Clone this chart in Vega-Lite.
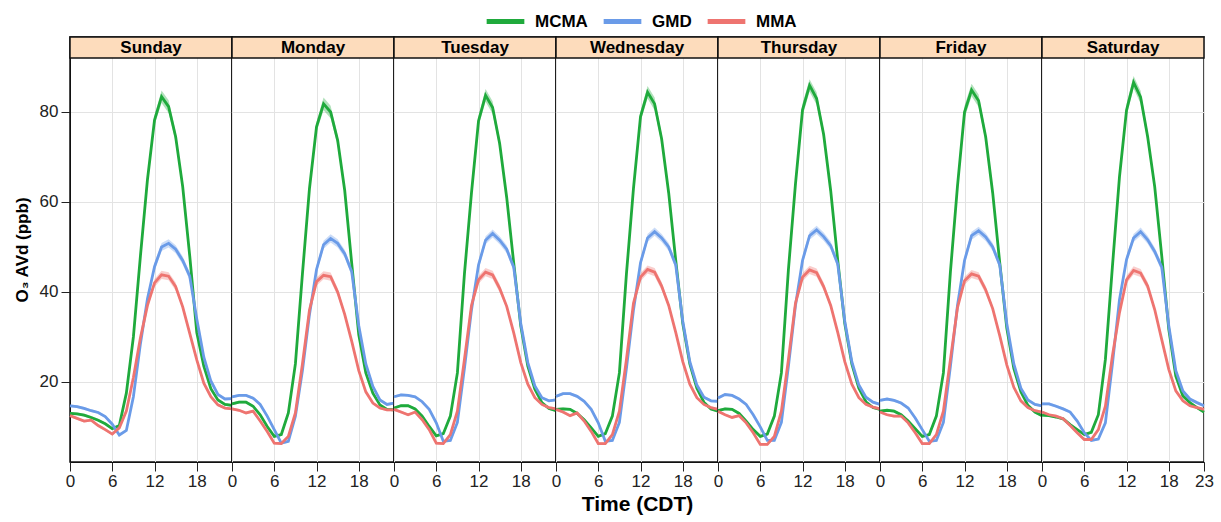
{
"$schema": "https://vega.github.io/schema/vega-lite/v6.json",
"padding": {"left": 12, "top": 0, "right": 5, "bottom": 5},
"spacing": 0,
"bounds": "flush",
"config": {
  "font": "Liberation Sans",
  "view": {"stroke": "#111", "strokeWidth": 1.5},
  "axis": {"labelFont": "Liberation Sans", "titleFont": "Liberation Sans", "labelColor": "#222", "tickColor": "#222", "domainColor": "#111", "gridColor": "#e3e3e3", "titleColor": "#000", "labelFlush": false},
  "concat": {"spacing": 0}
},
"resolve": {"scale": {"color": "shared"}},
"datasets": {"o3": [
{"d":"Sunday","h":0,"s":"MCMA","v":13.0,"e":0.3},{"d":"Sunday","h":1,"s":"MCMA","v":12.9,"e":0.3},{"d":"Sunday","h":2,"s":"MCMA","v":12.6,"e":0.3},{"d":"Sunday","h":3,"s":"MCMA","v":12.1,"e":0.3},{"d":"Sunday","h":4,"s":"MCMA","v":11.5,"e":0.3},{"d":"Sunday","h":5,"s":"MCMA","v":10.7,"e":0.3},{"d":"Sunday","h":6,"s":"MCMA","v":9.6,"e":0.3},{"d":"Sunday","h":7,"s":"MCMA","v":10.3,"e":0.3},{"d":"Sunday","h":8,"s":"MCMA","v":17.5,"e":0.3},{"d":"Sunday","h":9,"s":"MCMA","v":30,"e":0.5},{"d":"Sunday","h":10,"s":"MCMA","v":48,"e":0.9},{"d":"Sunday","h":11,"s":"MCMA","v":65,"e":1.1},{"d":"Sunday","h":12,"s":"MCMA","v":78.2,"e":1.1},{"d":"Sunday","h":13,"s":"MCMA","v":83.4,"e":1.4},{"d":"Sunday","h":14,"s":"MCMA","v":81.2,"e":1.4},{"d":"Sunday","h":15,"s":"MCMA","v":74.5,"e":1.1},{"d":"Sunday","h":16,"s":"MCMA","v":63.4,"e":1.1},{"d":"Sunday","h":17,"s":"MCMA","v":48,"e":0.9},{"d":"Sunday","h":18,"s":"MCMA","v":31,"e":0.5},{"d":"Sunday","h":19,"s":"MCMA","v":23.5,"e":0.5},{"d":"Sunday","h":20,"s":"MCMA","v":18.5,"e":0.3},{"d":"Sunday","h":21,"s":"MCMA","v":16,"e":0.3},{"d":"Sunday","h":22,"s":"MCMA","v":15,"e":0.3},{"d":"Sunday","h":23,"s":"MCMA","v":14.8,"e":0.3},
{"d":"Sunday","h":0,"s":"GMD","v":14.7,"e":0.3},{"d":"Sunday","h":1,"s":"GMD","v":14.5,"e":0.3},{"d":"Sunday","h":2,"s":"GMD","v":14.1,"e":0.3},{"d":"Sunday","h":3,"s":"GMD","v":13.6,"e":0.3},{"d":"Sunday","h":4,"s":"GMD","v":13.2,"e":0.3},{"d":"Sunday","h":5,"s":"GMD","v":12.3,"e":0.3},{"d":"Sunday","h":6,"s":"GMD","v":10.6,"e":0.3},{"d":"Sunday","h":7,"s":"GMD","v":8.2,"e":0.3},{"d":"Sunday","h":8,"s":"GMD","v":9.2,"e":0.3},{"d":"Sunday","h":9,"s":"GMD","v":16.7,"e":0.3},{"d":"Sunday","h":10,"s":"GMD","v":28.5,"e":0.5},{"d":"Sunday","h":11,"s":"GMD","v":38.5,"e":0.5},{"d":"Sunday","h":12,"s":"GMD","v":45.6,"e":0.9},{"d":"Sunday","h":13,"s":"GMD","v":50,"e":0.9},{"d":"Sunday","h":14,"s":"GMD","v":50.8,"e":0.9},{"d":"Sunday","h":15,"s":"GMD","v":49.5,"e":0.9},{"d":"Sunday","h":16,"s":"GMD","v":47,"e":0.9},{"d":"Sunday","h":17,"s":"GMD","v":43.5,"e":0.9},{"d":"Sunday","h":18,"s":"GMD","v":34,"e":0.5},{"d":"Sunday","h":19,"s":"GMD","v":25.5,"e":0.5},{"d":"Sunday","h":20,"s":"GMD","v":20.2,"e":0.5},{"d":"Sunday","h":21,"s":"GMD","v":17.2,"e":0.3},{"d":"Sunday","h":22,"s":"GMD","v":16.2,"e":0.3},{"d":"Sunday","h":23,"s":"GMD","v":16.3,"e":0.3},
{"d":"Sunday","h":0,"s":"MMA","v":12.5,"e":0.3},{"d":"Sunday","h":1,"s":"MMA","v":11.9,"e":0.3},{"d":"Sunday","h":2,"s":"MMA","v":11.3,"e":0.3},{"d":"Sunday","h":3,"s":"MMA","v":11.5,"e":0.3},{"d":"Sunday","h":4,"s":"MMA","v":10.3,"e":0.3},{"d":"Sunday","h":5,"s":"MMA","v":9.4,"e":0.3},{"d":"Sunday","h":6,"s":"MMA","v":8.4,"e":0.3},{"d":"Sunday","h":7,"s":"MMA","v":9.8,"e":0.3},{"d":"Sunday","h":8,"s":"MMA","v":13.5,"e":0.3},{"d":"Sunday","h":9,"s":"MMA","v":21,"e":0.5},{"d":"Sunday","h":10,"s":"MMA","v":29.8,"e":0.5},{"d":"Sunday","h":11,"s":"MMA","v":37,"e":0.5},{"d":"Sunday","h":12,"s":"MMA","v":42,"e":0.9},{"d":"Sunday","h":13,"s":"MMA","v":43.8,"e":0.9},{"d":"Sunday","h":14,"s":"MMA","v":43.5,"e":0.9},{"d":"Sunday","h":15,"s":"MMA","v":41.2,"e":0.9},{"d":"Sunday","h":16,"s":"MMA","v":36.7,"e":0.5},{"d":"Sunday","h":17,"s":"MMA","v":30.8,"e":0.5},{"d":"Sunday","h":18,"s":"MMA","v":24.9,"e":0.5},{"d":"Sunday","h":19,"s":"MMA","v":19.7,"e":0.3},{"d":"Sunday","h":20,"s":"MMA","v":16.7,"e":0.3},{"d":"Sunday","h":21,"s":"MMA","v":14.9,"e":0.3},{"d":"Sunday","h":22,"s":"MMA","v":14.2,"e":0.3},{"d":"Sunday","h":23,"s":"MMA","v":14.0,"e":0.3},
{"d":"Monday","h":0,"s":"MCMA","v":15.1,"e":0.3},{"d":"Monday","h":1,"s":"MCMA","v":15.5,"e":0.3},{"d":"Monday","h":2,"s":"MCMA","v":15.5,"e":0.3},{"d":"Monday","h":3,"s":"MCMA","v":14.6,"e":0.3},{"d":"Monday","h":4,"s":"MCMA","v":12.7,"e":0.3},{"d":"Monday","h":5,"s":"MCMA","v":10.1,"e":0.3},{"d":"Monday","h":6,"s":"MCMA","v":7.9,"e":0.3},{"d":"Monday","h":7,"s":"MCMA","v":8.3,"e":0.3},{"d":"Monday","h":8,"s":"MCMA","v":13.1,"e":0.3},{"d":"Monday","h":9,"s":"MCMA","v":24,"e":0.5},{"d":"Monday","h":10,"s":"MCMA","v":44,"e":0.9},{"d":"Monday","h":11,"s":"MCMA","v":63,"e":1.1},{"d":"Monday","h":12,"s":"MCMA","v":76.7,"e":1.1},{"d":"Monday","h":13,"s":"MCMA","v":81.8,"e":1.4},{"d":"Monday","h":14,"s":"MCMA","v":80,"e":1.4},{"d":"Monday","h":15,"s":"MCMA","v":73.7,"e":1.1},{"d":"Monday","h":16,"s":"MCMA","v":62.6,"e":1.1},{"d":"Monday","h":17,"s":"MCMA","v":46.3,"e":0.9},{"d":"Monday","h":18,"s":"MCMA","v":30.5,"e":0.5},{"d":"Monday","h":19,"s":"MCMA","v":22,"e":0.5},{"d":"Monday","h":20,"s":"MCMA","v":17.5,"e":0.3},{"d":"Monday","h":21,"s":"MCMA","v":14.9,"e":0.3},{"d":"Monday","h":22,"s":"MCMA","v":13.9,"e":0.3},{"d":"Monday","h":23,"s":"MCMA","v":13.8,"e":0.3},
{"d":"Monday","h":0,"s":"GMD","v":16.7,"e":0.3},{"d":"Monday","h":1,"s":"GMD","v":17.0,"e":0.3},{"d":"Monday","h":2,"s":"GMD","v":17.0,"e":0.3},{"d":"Monday","h":3,"s":"GMD","v":16.4,"e":0.3},{"d":"Monday","h":4,"s":"GMD","v":15.0,"e":0.3},{"d":"Monday","h":5,"s":"GMD","v":12.4,"e":0.3},{"d":"Monday","h":6,"s":"GMD","v":9.4,"e":0.3},{"d":"Monday","h":7,"s":"GMD","v":6.4,"e":0.3},{"d":"Monday","h":8,"s":"GMD","v":6.8,"e":0.3},{"d":"Monday","h":9,"s":"GMD","v":12.4,"e":0.3},{"d":"Monday","h":10,"s":"GMD","v":22.5,"e":0.5},{"d":"Monday","h":11,"s":"GMD","v":35,"e":0.5},{"d":"Monday","h":12,"s":"GMD","v":45,"e":0.9},{"d":"Monday","h":13,"s":"GMD","v":50.5,"e":0.9},{"d":"Monday","h":14,"s":"GMD","v":51.9,"e":0.9},{"d":"Monday","h":15,"s":"GMD","v":50.8,"e":0.9},{"d":"Monday","h":16,"s":"GMD","v":48.5,"e":0.9},{"d":"Monday","h":17,"s":"GMD","v":44.5,"e":0.9},{"d":"Monday","h":18,"s":"GMD","v":32.5,"e":0.5},{"d":"Monday","h":19,"s":"GMD","v":24,"e":0.5},{"d":"Monday","h":20,"s":"GMD","v":19,"e":0.3},{"d":"Monday","h":21,"s":"GMD","v":16,"e":0.3},{"d":"Monday","h":22,"s":"GMD","v":15,"e":0.3},{"d":"Monday","h":23,"s":"GMD","v":15.3,"e":0.3},
{"d":"Monday","h":0,"s":"MMA","v":14.0,"e":0.3},{"d":"Monday","h":1,"s":"MMA","v":13.7,"e":0.3},{"d":"Monday","h":2,"s":"MMA","v":13.1,"e":0.3},{"d":"Monday","h":3,"s":"MMA","v":13.5,"e":0.3},{"d":"Monday","h":4,"s":"MMA","v":11.3,"e":0.3},{"d":"Monday","h":5,"s":"MMA","v":9.0,"e":0.3},{"d":"Monday","h":6,"s":"MMA","v":6.4,"e":0.3},{"d":"Monday","h":7,"s":"MMA","v":6.3,"e":0.3},{"d":"Monday","h":8,"s":"MMA","v":7.9,"e":0.3},{"d":"Monday","h":9,"s":"MMA","v":13.1,"e":0.3},{"d":"Monday","h":10,"s":"MMA","v":24,"e":0.5},{"d":"Monday","h":11,"s":"MMA","v":36,"e":0.5},{"d":"Monday","h":12,"s":"MMA","v":42.3,"e":0.9},{"d":"Monday","h":13,"s":"MMA","v":43.7,"e":0.9},{"d":"Monday","h":14,"s":"MMA","v":43.4,"e":0.9},{"d":"Monday","h":15,"s":"MMA","v":40,"e":0.9},{"d":"Monday","h":16,"s":"MMA","v":35,"e":0.5},{"d":"Monday","h":17,"s":"MMA","v":29,"e":0.5},{"d":"Monday","h":18,"s":"MMA","v":22.5,"e":0.5},{"d":"Monday","h":19,"s":"MMA","v":17.8,"e":0.3},{"d":"Monday","h":20,"s":"MMA","v":15.3,"e":0.3},{"d":"Monday","h":21,"s":"MMA","v":14.2,"e":0.3},{"d":"Monday","h":22,"s":"MMA","v":13.8,"e":0.3},{"d":"Monday","h":23,"s":"MMA","v":13.8,"e":0.3},
{"d":"Tuesday","h":0,"s":"MCMA","v":14.2,"e":0.3},{"d":"Tuesday","h":1,"s":"MCMA","v":14.7,"e":0.3},{"d":"Tuesday","h":2,"s":"MCMA","v":14.7,"e":0.3},{"d":"Tuesday","h":3,"s":"MCMA","v":14.0,"e":0.3},{"d":"Tuesday","h":4,"s":"MCMA","v":12.4,"e":0.3},{"d":"Tuesday","h":5,"s":"MCMA","v":10.1,"e":0.3},{"d":"Tuesday","h":6,"s":"MCMA","v":8.0,"e":0.3},{"d":"Tuesday","h":7,"s":"MCMA","v":8.5,"e":0.3},{"d":"Tuesday","h":8,"s":"MCMA","v":12.4,"e":0.3},{"d":"Tuesday","h":9,"s":"MCMA","v":22,"e":0.5},{"d":"Tuesday","h":10,"s":"MCMA","v":44,"e":0.9},{"d":"Tuesday","h":11,"s":"MCMA","v":62,"e":1.1},{"d":"Tuesday","h":12,"s":"MCMA","v":78,"e":1.1},{"d":"Tuesday","h":13,"s":"MCMA","v":83.7,"e":1.4},{"d":"Tuesday","h":14,"s":"MCMA","v":81,"e":1.4},{"d":"Tuesday","h":15,"s":"MCMA","v":73,"e":1.1},{"d":"Tuesday","h":16,"s":"MCMA","v":61,"e":1.1},{"d":"Tuesday","h":17,"s":"MCMA","v":46.4,"e":0.9},{"d":"Tuesday","h":18,"s":"MCMA","v":32.4,"e":0.5},{"d":"Tuesday","h":19,"s":"MCMA","v":23.5,"e":0.5},{"d":"Tuesday","h":20,"s":"MCMA","v":18.4,"e":0.3},{"d":"Tuesday","h":21,"s":"MCMA","v":15.4,"e":0.3},{"d":"Tuesday","h":22,"s":"MCMA","v":14.1,"e":0.3},{"d":"Tuesday","h":23,"s":"MCMA","v":13.6,"e":0.3},
{"d":"Tuesday","h":0,"s":"GMD","v":16.7,"e":0.3},{"d":"Tuesday","h":1,"s":"GMD","v":17.1,"e":0.3},{"d":"Tuesday","h":2,"s":"GMD","v":17.0,"e":0.3},{"d":"Tuesday","h":3,"s":"GMD","v":16.7,"e":0.3},{"d":"Tuesday","h":4,"s":"GMD","v":15.6,"e":0.3},{"d":"Tuesday","h":5,"s":"GMD","v":13.9,"e":0.3},{"d":"Tuesday","h":6,"s":"GMD","v":10.9,"e":0.3},{"d":"Tuesday","h":7,"s":"GMD","v":6.8,"e":0.3},{"d":"Tuesday","h":8,"s":"GMD","v":7.0,"e":0.3},{"d":"Tuesday","h":9,"s":"GMD","v":11,"e":0.3},{"d":"Tuesday","h":10,"s":"GMD","v":23,"e":0.5},{"d":"Tuesday","h":11,"s":"GMD","v":36,"e":0.5},{"d":"Tuesday","h":12,"s":"GMD","v":46,"e":0.9},{"d":"Tuesday","h":13,"s":"GMD","v":51.5,"e":0.9},{"d":"Tuesday","h":14,"s":"GMD","v":53,"e":0.9},{"d":"Tuesday","h":15,"s":"GMD","v":51.5,"e":0.9},{"d":"Tuesday","h":16,"s":"GMD","v":49.5,"e":0.9},{"d":"Tuesday","h":17,"s":"GMD","v":45.5,"e":0.9},{"d":"Tuesday","h":18,"s":"GMD","v":33,"e":0.5},{"d":"Tuesday","h":19,"s":"GMD","v":24.3,"e":0.5},{"d":"Tuesday","h":20,"s":"GMD","v":19.1,"e":0.3},{"d":"Tuesday","h":21,"s":"GMD","v":16.5,"e":0.3},{"d":"Tuesday","h":22,"s":"GMD","v":15.8,"e":0.3},{"d":"Tuesday","h":23,"s":"GMD","v":16.0,"e":0.3},
{"d":"Tuesday","h":0,"s":"MMA","v":13.9,"e":0.3},{"d":"Tuesday","h":1,"s":"MMA","v":13.3,"e":0.3},{"d":"Tuesday","h":2,"s":"MMA","v":12.7,"e":0.3},{"d":"Tuesday","h":3,"s":"MMA","v":13.3,"e":0.3},{"d":"Tuesday","h":4,"s":"MMA","v":11.6,"e":0.3},{"d":"Tuesday","h":5,"s":"MMA","v":9.4,"e":0.3},{"d":"Tuesday","h":6,"s":"MMA","v":6.4,"e":0.3},{"d":"Tuesday","h":7,"s":"MMA","v":6.3,"e":0.3},{"d":"Tuesday","h":8,"s":"MMA","v":8.3,"e":0.3},{"d":"Tuesday","h":9,"s":"MMA","v":13.5,"e":0.3},{"d":"Tuesday","h":10,"s":"MMA","v":25,"e":0.5},{"d":"Tuesday","h":11,"s":"MMA","v":37,"e":0.5},{"d":"Tuesday","h":12,"s":"MMA","v":42.7,"e":0.9},{"d":"Tuesday","h":13,"s":"MMA","v":44.4,"e":0.9},{"d":"Tuesday","h":14,"s":"MMA","v":43.8,"e":0.9},{"d":"Tuesday","h":15,"s":"MMA","v":40.8,"e":0.9},{"d":"Tuesday","h":16,"s":"MMA","v":36.8,"e":0.5},{"d":"Tuesday","h":17,"s":"MMA","v":30.9,"e":0.5},{"d":"Tuesday","h":18,"s":"MMA","v":24.3,"e":0.5},{"d":"Tuesday","h":19,"s":"MMA","v":19.5,"e":0.3},{"d":"Tuesday","h":20,"s":"MMA","v":16.5,"e":0.3},{"d":"Tuesday","h":21,"s":"MMA","v":15,"e":0.3},{"d":"Tuesday","h":22,"s":"MMA","v":14.3,"e":0.3},{"d":"Tuesday","h":23,"s":"MMA","v":14.0,"e":0.3},
{"d":"Wednesday","h":0,"s":"MCMA","v":13.9,"e":0.3},{"d":"Wednesday","h":1,"s":"MCMA","v":14.0,"e":0.3},{"d":"Wednesday","h":2,"s":"MCMA","v":13.9,"e":0.3},{"d":"Wednesday","h":3,"s":"MCMA","v":13.0,"e":0.3},{"d":"Wednesday","h":4,"s":"MCMA","v":11.6,"e":0.3},{"d":"Wednesday","h":5,"s":"MCMA","v":9.8,"e":0.3},{"d":"Wednesday","h":6,"s":"MCMA","v":7.9,"e":0.3},{"d":"Wednesday","h":7,"s":"MCMA","v":8.5,"e":0.3},{"d":"Wednesday","h":8,"s":"MCMA","v":12.4,"e":0.3},{"d":"Wednesday","h":9,"s":"MCMA","v":22,"e":0.5},{"d":"Wednesday","h":10,"s":"MCMA","v":44,"e":0.9},{"d":"Wednesday","h":11,"s":"MCMA","v":63,"e":1.1},{"d":"Wednesday","h":12,"s":"MCMA","v":79,"e":1.1},{"d":"Wednesday","h":13,"s":"MCMA","v":84.4,"e":1.4},{"d":"Wednesday","h":14,"s":"MCMA","v":81.8,"e":1.4},{"d":"Wednesday","h":15,"s":"MCMA","v":74,"e":1.1},{"d":"Wednesday","h":16,"s":"MCMA","v":62,"e":1.1},{"d":"Wednesday","h":17,"s":"MCMA","v":47,"e":0.9},{"d":"Wednesday","h":18,"s":"MCMA","v":33,"e":0.5},{"d":"Wednesday","h":19,"s":"MCMA","v":24,"e":0.5},{"d":"Wednesday","h":20,"s":"MCMA","v":18.6,"e":0.3},{"d":"Wednesday","h":21,"s":"MCMA","v":15.5,"e":0.3},{"d":"Wednesday","h":22,"s":"MCMA","v":14,"e":0.3},{"d":"Wednesday","h":23,"s":"MCMA","v":13.5,"e":0.3},
{"d":"Wednesday","h":0,"s":"GMD","v":16.8,"e":0.3},{"d":"Wednesday","h":1,"s":"GMD","v":17.4,"e":0.3},{"d":"Wednesday","h":2,"s":"GMD","v":17.4,"e":0.3},{"d":"Wednesday","h":3,"s":"GMD","v":16.8,"e":0.3},{"d":"Wednesday","h":4,"s":"GMD","v":15.7,"e":0.3},{"d":"Wednesday","h":5,"s":"GMD","v":13.9,"e":0.3},{"d":"Wednesday","h":6,"s":"GMD","v":10.9,"e":0.3},{"d":"Wednesday","h":7,"s":"GMD","v":6.8,"e":0.3},{"d":"Wednesday","h":8,"s":"GMD","v":7.0,"e":0.3},{"d":"Wednesday","h":9,"s":"GMD","v":11,"e":0.3},{"d":"Wednesday","h":10,"s":"GMD","v":23,"e":0.5},{"d":"Wednesday","h":11,"s":"GMD","v":36,"e":0.5},{"d":"Wednesday","h":12,"s":"GMD","v":46.5,"e":0.9},{"d":"Wednesday","h":13,"s":"GMD","v":52,"e":0.9},{"d":"Wednesday","h":14,"s":"GMD","v":53.4,"e":0.9},{"d":"Wednesday","h":15,"s":"GMD","v":52,"e":0.9},{"d":"Wednesday","h":16,"s":"GMD","v":50,"e":0.9},{"d":"Wednesday","h":17,"s":"GMD","v":46,"e":0.9},{"d":"Wednesday","h":18,"s":"GMD","v":33.5,"e":0.5},{"d":"Wednesday","h":19,"s":"GMD","v":24.5,"e":0.5},{"d":"Wednesday","h":20,"s":"GMD","v":19.3,"e":0.3},{"d":"Wednesday","h":21,"s":"GMD","v":16.6,"e":0.3},{"d":"Wednesday","h":22,"s":"GMD","v":15.8,"e":0.3},{"d":"Wednesday","h":23,"s":"GMD","v":15.7,"e":0.3},
{"d":"Wednesday","h":0,"s":"MMA","v":13.9,"e":0.3},{"d":"Wednesday","h":1,"s":"MMA","v":13.3,"e":0.3},{"d":"Wednesday","h":2,"s":"MMA","v":12.5,"e":0.3},{"d":"Wednesday","h":3,"s":"MMA","v":13.1,"e":0.3},{"d":"Wednesday","h":4,"s":"MMA","v":11.3,"e":0.3},{"d":"Wednesday","h":5,"s":"MMA","v":9.0,"e":0.3},{"d":"Wednesday","h":6,"s":"MMA","v":6.3,"e":0.3},{"d":"Wednesday","h":7,"s":"MMA","v":6.3,"e":0.3},{"d":"Wednesday","h":8,"s":"MMA","v":8.3,"e":0.3},{"d":"Wednesday","h":9,"s":"MMA","v":13.5,"e":0.3},{"d":"Wednesday","h":10,"s":"MMA","v":25,"e":0.5},{"d":"Wednesday","h":11,"s":"MMA","v":37.5,"e":0.5},{"d":"Wednesday","h":12,"s":"MMA","v":43.3,"e":0.9},{"d":"Wednesday","h":13,"s":"MMA","v":45,"e":0.9},{"d":"Wednesday","h":14,"s":"MMA","v":44.4,"e":0.9},{"d":"Wednesday","h":15,"s":"MMA","v":41.3,"e":0.9},{"d":"Wednesday","h":16,"s":"MMA","v":37,"e":0.5},{"d":"Wednesday","h":17,"s":"MMA","v":31,"e":0.5},{"d":"Wednesday","h":18,"s":"MMA","v":24.5,"e":0.5},{"d":"Wednesday","h":19,"s":"MMA","v":19.5,"e":0.3},{"d":"Wednesday","h":20,"s":"MMA","v":16.5,"e":0.3},{"d":"Wednesday","h":21,"s":"MMA","v":15,"e":0.3},{"d":"Wednesday","h":22,"s":"MMA","v":14.3,"e":0.3},{"d":"Wednesday","h":23,"s":"MMA","v":13.9,"e":0.3},
{"d":"Thursday","h":0,"s":"MCMA","v":13.6,"e":0.3},{"d":"Thursday","h":1,"s":"MCMA","v":14.0,"e":0.3},{"d":"Thursday","h":2,"s":"MCMA","v":13.9,"e":0.3},{"d":"Thursday","h":3,"s":"MCMA","v":13.0,"e":0.3},{"d":"Thursday","h":4,"s":"MCMA","v":11.3,"e":0.3},{"d":"Thursday","h":5,"s":"MCMA","v":9.4,"e":0.3},{"d":"Thursday","h":6,"s":"MCMA","v":7.9,"e":0.3},{"d":"Thursday","h":7,"s":"MCMA","v":8.4,"e":0.3},{"d":"Thursday","h":8,"s":"MCMA","v":12.4,"e":0.3},{"d":"Thursday","h":9,"s":"MCMA","v":22,"e":0.5},{"d":"Thursday","h":10,"s":"MCMA","v":45,"e":0.9},{"d":"Thursday","h":11,"s":"MCMA","v":64,"e":1.1},{"d":"Thursday","h":12,"s":"MCMA","v":80.5,"e":1.4},{"d":"Thursday","h":13,"s":"MCMA","v":85.9,"e":1.4},{"d":"Thursday","h":14,"s":"MCMA","v":83,"e":1.4},{"d":"Thursday","h":15,"s":"MCMA","v":75,"e":1.1},{"d":"Thursday","h":16,"s":"MCMA","v":62.5,"e":1.1},{"d":"Thursday","h":17,"s":"MCMA","v":47,"e":0.9},{"d":"Thursday","h":18,"s":"MCMA","v":33,"e":0.5},{"d":"Thursday","h":19,"s":"MCMA","v":24,"e":0.5},{"d":"Thursday","h":20,"s":"MCMA","v":18.6,"e":0.3},{"d":"Thursday","h":21,"s":"MCMA","v":15.6,"e":0.3},{"d":"Thursday","h":22,"s":"MCMA","v":14.3,"e":0.3},{"d":"Thursday","h":23,"s":"MCMA","v":13.9,"e":0.3},
{"d":"Thursday","h":0,"s":"GMD","v":16.4,"e":0.3},{"d":"Thursday","h":1,"s":"GMD","v":17.2,"e":0.3},{"d":"Thursday","h":2,"s":"GMD","v":17.0,"e":0.3},{"d":"Thursday","h":3,"s":"GMD","v":16.2,"e":0.3},{"d":"Thursday","h":4,"s":"GMD","v":15.0,"e":0.3},{"d":"Thursday","h":5,"s":"GMD","v":12.7,"e":0.3},{"d":"Thursday","h":6,"s":"GMD","v":10.0,"e":0.3},{"d":"Thursday","h":7,"s":"GMD","v":7.0,"e":0.3},{"d":"Thursday","h":8,"s":"GMD","v":7.0,"e":0.3},{"d":"Thursday","h":9,"s":"GMD","v":11,"e":0.3},{"d":"Thursday","h":10,"s":"GMD","v":23.5,"e":0.5},{"d":"Thursday","h":11,"s":"GMD","v":37,"e":0.5},{"d":"Thursday","h":12,"s":"GMD","v":47,"e":0.9},{"d":"Thursday","h":13,"s":"GMD","v":52.5,"e":0.9},{"d":"Thursday","h":14,"s":"GMD","v":53.8,"e":0.9},{"d":"Thursday","h":15,"s":"GMD","v":52.3,"e":0.9},{"d":"Thursday","h":16,"s":"GMD","v":50.3,"e":0.9},{"d":"Thursday","h":17,"s":"GMD","v":46.2,"e":0.9},{"d":"Thursday","h":18,"s":"GMD","v":33.5,"e":0.5},{"d":"Thursday","h":19,"s":"GMD","v":24.5,"e":0.5},{"d":"Thursday","h":20,"s":"GMD","v":19.3,"e":0.3},{"d":"Thursday","h":21,"s":"GMD","v":16.6,"e":0.3},{"d":"Thursday","h":22,"s":"GMD","v":15.5,"e":0.3},{"d":"Thursday","h":23,"s":"GMD","v":15.0,"e":0.3},
{"d":"Thursday","h":0,"s":"MMA","v":13.5,"e":0.3},{"d":"Thursday","h":1,"s":"MMA","v":12.7,"e":0.3},{"d":"Thursday","h":2,"s":"MMA","v":12.1,"e":0.3},{"d":"Thursday","h":3,"s":"MMA","v":12.5,"e":0.3},{"d":"Thursday","h":4,"s":"MMA","v":10.9,"e":0.3},{"d":"Thursday","h":5,"s":"MMA","v":8.7,"e":0.3},{"d":"Thursday","h":6,"s":"MMA","v":6.1,"e":0.3},{"d":"Thursday","h":7,"s":"MMA","v":6.1,"e":0.3},{"d":"Thursday","h":8,"s":"MMA","v":7.9,"e":0.3},{"d":"Thursday","h":9,"s":"MMA","v":13.5,"e":0.3},{"d":"Thursday","h":10,"s":"MMA","v":25,"e":0.5},{"d":"Thursday","h":11,"s":"MMA","v":37.5,"e":0.5},{"d":"Thursday","h":12,"s":"MMA","v":43.3,"e":0.9},{"d":"Thursday","h":13,"s":"MMA","v":44.9,"e":0.9},{"d":"Thursday","h":14,"s":"MMA","v":44.3,"e":0.9},{"d":"Thursday","h":15,"s":"MMA","v":41.2,"e":0.9},{"d":"Thursday","h":16,"s":"MMA","v":37,"e":0.5},{"d":"Thursday","h":17,"s":"MMA","v":31,"e":0.5},{"d":"Thursday","h":18,"s":"MMA","v":24.5,"e":0.5},{"d":"Thursday","h":19,"s":"MMA","v":19.5,"e":0.3},{"d":"Thursday","h":20,"s":"MMA","v":16.5,"e":0.3},{"d":"Thursday","h":21,"s":"MMA","v":15,"e":0.3},{"d":"Thursday","h":22,"s":"MMA","v":14.4,"e":0.3},{"d":"Thursday","h":23,"s":"MMA","v":14.0,"e":0.3},
{"d":"Friday","h":0,"s":"MCMA","v":13.5,"e":0.3},{"d":"Friday","h":1,"s":"MCMA","v":13.7,"e":0.3},{"d":"Friday","h":2,"s":"MCMA","v":13.5,"e":0.3},{"d":"Friday","h":3,"s":"MCMA","v":12.7,"e":0.3},{"d":"Friday","h":4,"s":"MCMA","v":11.3,"e":0.3},{"d":"Friday","h":5,"s":"MCMA","v":9.6,"e":0.3},{"d":"Friday","h":6,"s":"MCMA","v":7.9,"e":0.3},{"d":"Friday","h":7,"s":"MCMA","v":8.3,"e":0.3},{"d":"Friday","h":8,"s":"MCMA","v":12.4,"e":0.3},{"d":"Friday","h":9,"s":"MCMA","v":22,"e":0.5},{"d":"Friday","h":10,"s":"MCMA","v":44.5,"e":0.9},{"d":"Friday","h":11,"s":"MCMA","v":63.5,"e":1.1},{"d":"Friday","h":12,"s":"MCMA","v":80,"e":1.4},{"d":"Friday","h":13,"s":"MCMA","v":84.9,"e":1.4},{"d":"Friday","h":14,"s":"MCMA","v":82.5,"e":1.4},{"d":"Friday","h":15,"s":"MCMA","v":74.5,"e":1.1},{"d":"Friday","h":16,"s":"MCMA","v":62,"e":1.1},{"d":"Friday","h":17,"s":"MCMA","v":46.5,"e":0.9},{"d":"Friday","h":18,"s":"MCMA","v":32,"e":0.5},{"d":"Friday","h":19,"s":"MCMA","v":23,"e":0.5},{"d":"Friday","h":20,"s":"MCMA","v":17.8,"e":0.3},{"d":"Friday","h":21,"s":"MCMA","v":14.8,"e":0.3},{"d":"Friday","h":22,"s":"MCMA","v":13.3,"e":0.3},{"d":"Friday","h":23,"s":"MCMA","v":12.5,"e":0.3},
{"d":"Friday","h":0,"s":"GMD","v":15.9,"e":0.3},{"d":"Friday","h":1,"s":"GMD","v":16.2,"e":0.3},{"d":"Friday","h":2,"s":"GMD","v":15.9,"e":0.3},{"d":"Friday","h":3,"s":"GMD","v":15.3,"e":0.3},{"d":"Friday","h":4,"s":"GMD","v":14.2,"e":0.3},{"d":"Friday","h":5,"s":"GMD","v":12.0,"e":0.3},{"d":"Friday","h":6,"s":"GMD","v":9.4,"e":0.3},{"d":"Friday","h":7,"s":"GMD","v":6.8,"e":0.3},{"d":"Friday","h":8,"s":"GMD","v":7.0,"e":0.3},{"d":"Friday","h":9,"s":"GMD","v":11,"e":0.3},{"d":"Friday","h":10,"s":"GMD","v":23.5,"e":0.5},{"d":"Friday","h":11,"s":"GMD","v":37,"e":0.5},{"d":"Friday","h":12,"s":"GMD","v":47,"e":0.9},{"d":"Friday","h":13,"s":"GMD","v":52.5,"e":0.9},{"d":"Friday","h":14,"s":"GMD","v":53.6,"e":0.9},{"d":"Friday","h":15,"s":"GMD","v":52.2,"e":0.9},{"d":"Friday","h":16,"s":"GMD","v":50,"e":0.9},{"d":"Friday","h":17,"s":"GMD","v":46,"e":0.9},{"d":"Friday","h":18,"s":"GMD","v":33,"e":0.5},{"d":"Friday","h":19,"s":"GMD","v":24,"e":0.5},{"d":"Friday","h":20,"s":"GMD","v":18.6,"e":0.3},{"d":"Friday","h":21,"s":"GMD","v":16,"e":0.3},{"d":"Friday","h":22,"s":"GMD","v":15,"e":0.3},{"d":"Friday","h":23,"s":"GMD","v":14.7,"e":0.3},
{"d":"Friday","h":0,"s":"MMA","v":13.3,"e":0.3},{"d":"Friday","h":1,"s":"MMA","v":12.7,"e":0.3},{"d":"Friday","h":2,"s":"MMA","v":12.4,"e":0.3},{"d":"Friday","h":3,"s":"MMA","v":12.4,"e":0.3},{"d":"Friday","h":4,"s":"MMA","v":10.9,"e":0.3},{"d":"Friday","h":5,"s":"MMA","v":8.7,"e":0.3},{"d":"Friday","h":6,"s":"MMA","v":6.3,"e":0.3},{"d":"Friday","h":7,"s":"MMA","v":6.3,"e":0.3},{"d":"Friday","h":8,"s":"MMA","v":8.3,"e":0.3},{"d":"Friday","h":9,"s":"MMA","v":13.5,"e":0.3},{"d":"Friday","h":10,"s":"MMA","v":25,"e":0.5},{"d":"Friday","h":11,"s":"MMA","v":36.5,"e":0.5},{"d":"Friday","h":12,"s":"MMA","v":42.5,"e":0.9},{"d":"Friday","h":13,"s":"MMA","v":44.0,"e":0.9},{"d":"Friday","h":14,"s":"MMA","v":43.5,"e":0.9},{"d":"Friday","h":15,"s":"MMA","v":40.5,"e":0.9},{"d":"Friday","h":16,"s":"MMA","v":36.3,"e":0.5},{"d":"Friday","h":17,"s":"MMA","v":30.3,"e":0.5},{"d":"Friday","h":18,"s":"MMA","v":23.8,"e":0.5},{"d":"Friday","h":19,"s":"MMA","v":18.8,"e":0.3},{"d":"Friday","h":20,"s":"MMA","v":15.8,"e":0.3},{"d":"Friday","h":21,"s":"MMA","v":14.3,"e":0.3},{"d":"Friday","h":22,"s":"MMA","v":13.6,"e":0.3},{"d":"Friday","h":23,"s":"MMA","v":13.3,"e":0.3},
{"d":"Saturday","h":0,"s":"MCMA","v":12.6,"e":0.3},{"d":"Saturday","h":1,"s":"MCMA","v":12.5,"e":0.3},{"d":"Saturday","h":2,"s":"MCMA","v":12.2,"e":0.3},{"d":"Saturday","h":3,"s":"MCMA","v":11.8,"e":0.3},{"d":"Saturday","h":4,"s":"MCMA","v":10.5,"e":0.3},{"d":"Saturday","h":5,"s":"MCMA","v":9.4,"e":0.3},{"d":"Saturday","h":6,"s":"MCMA","v":8.3,"e":0.3},{"d":"Saturday","h":7,"s":"MCMA","v":8.8,"e":0.3},{"d":"Saturday","h":8,"s":"MCMA","v":12.7,"e":0.3},{"d":"Saturday","h":9,"s":"MCMA","v":25,"e":0.5},{"d":"Saturday","h":10,"s":"MCMA","v":45.7,"e":0.9},{"d":"Saturday","h":11,"s":"MCMA","v":65.6,"e":1.1},{"d":"Saturday","h":12,"s":"MCMA","v":80.4,"e":1.4},{"d":"Saturday","h":13,"s":"MCMA","v":86.6,"e":1.4},{"d":"Saturday","h":14,"s":"MCMA","v":83.3,"e":1.4},{"d":"Saturday","h":15,"s":"MCMA","v":74.5,"e":1.1},{"d":"Saturday","h":16,"s":"MCMA","v":63.4,"e":1.1},{"d":"Saturday","h":17,"s":"MCMA","v":48,"e":0.9},{"d":"Saturday","h":18,"s":"MCMA","v":31.7,"e":0.5},{"d":"Saturday","h":19,"s":"MCMA","v":21.3,"e":0.5},{"d":"Saturday","h":20,"s":"MCMA","v":16.9,"e":0.3},{"d":"Saturday","h":21,"s":"MCMA","v":15.4,"e":0.3},{"d":"Saturday","h":22,"s":"MCMA","v":14.3,"e":0.3},{"d":"Saturday","h":23,"s":"MCMA","v":13.3,"e":0.3},
{"d":"Saturday","h":0,"s":"GMD","v":15.1,"e":0.3},{"d":"Saturday","h":1,"s":"GMD","v":15.1,"e":0.3},{"d":"Saturday","h":2,"s":"GMD","v":14.6,"e":0.3},{"d":"Saturday","h":3,"s":"GMD","v":14.0,"e":0.3},{"d":"Saturday","h":4,"s":"GMD","v":13.3,"e":0.3},{"d":"Saturday","h":5,"s":"GMD","v":11.3,"e":0.3},{"d":"Saturday","h":6,"s":"GMD","v":8.7,"e":0.3},{"d":"Saturday","h":7,"s":"GMD","v":7.0,"e":0.3},{"d":"Saturday","h":8,"s":"GMD","v":7.3,"e":0.3},{"d":"Saturday","h":9,"s":"GMD","v":10.9,"e":0.3},{"d":"Saturday","h":10,"s":"GMD","v":24,"e":0.5},{"d":"Saturday","h":11,"s":"GMD","v":38.3,"e":0.5},{"d":"Saturday","h":12,"s":"GMD","v":47.2,"e":0.9},{"d":"Saturday","h":13,"s":"GMD","v":52,"e":0.9},{"d":"Saturday","h":14,"s":"GMD","v":53.4,"e":0.9},{"d":"Saturday","h":15,"s":"GMD","v":51.6,"e":0.9},{"d":"Saturday","h":16,"s":"GMD","v":49,"e":0.9},{"d":"Saturday","h":17,"s":"GMD","v":45.5,"e":0.9},{"d":"Saturday","h":18,"s":"GMD","v":32.5,"e":0.5},{"d":"Saturday","h":19,"s":"GMD","v":22.5,"e":0.5},{"d":"Saturday","h":20,"s":"GMD","v":18,"e":0.3},{"d":"Saturday","h":21,"s":"GMD","v":16.2,"e":0.3},{"d":"Saturday","h":22,"s":"GMD","v":15.4,"e":0.3},{"d":"Saturday","h":23,"s":"GMD","v":14.7,"e":0.3},
{"d":"Saturday","h":0,"s":"MMA","v":13.3,"e":0.3},{"d":"Saturday","h":1,"s":"MMA","v":12.7,"e":0.3},{"d":"Saturday","h":2,"s":"MMA","v":12.4,"e":0.3},{"d":"Saturday","h":3,"s":"MMA","v":11.8,"e":0.3},{"d":"Saturday","h":4,"s":"MMA","v":10.3,"e":0.3},{"d":"Saturday","h":5,"s":"MMA","v":8.7,"e":0.3},{"d":"Saturday","h":6,"s":"MMA","v":7.2,"e":0.3},{"d":"Saturday","h":7,"s":"MMA","v":7.2,"e":0.3},{"d":"Saturday","h":8,"s":"MMA","v":9.4,"e":0.3},{"d":"Saturday","h":9,"s":"MMA","v":14.6,"e":0.3},{"d":"Saturday","h":10,"s":"MMA","v":25.8,"e":0.5},{"d":"Saturday","h":11,"s":"MMA","v":35.4,"e":0.5},{"d":"Saturday","h":12,"s":"MMA","v":42.7,"e":0.9},{"d":"Saturday","h":13,"s":"MMA","v":44.8,"e":0.9},{"d":"Saturday","h":14,"s":"MMA","v":44.2,"e":0.9},{"d":"Saturday","h":15,"s":"MMA","v":41.3,"e":0.9},{"d":"Saturday","h":16,"s":"MMA","v":36.1,"e":0.5},{"d":"Saturday","h":17,"s":"MMA","v":29.4,"e":0.5},{"d":"Saturday","h":18,"s":"MMA","v":22.8,"e":0.5},{"d":"Saturday","h":19,"s":"MMA","v":18,"e":0.3},{"d":"Saturday","h":20,"s":"MMA","v":15.8,"e":0.3},{"d":"Saturday","h":21,"s":"MMA","v":14.7,"e":0.3},{"d":"Saturday","h":22,"s":"MMA","v":14.3,"e":0.3},{"d":"Saturday","h":23,"s":"MMA","v":13.9,"e":0.3}
]},
"hconcat": [
{"width":162,"height":425,"data":{"name":"o3"},"transform":[{"filter":"datum.d === 'Sunday'"}],
 "encoding":{"x":{"field":"h","type":"quantitative","scale":{"domain":[0,23],"nice":false,"zero":false},"axis":{"values":[0,6,12,18],"title":null,"grid":true,"tickSize":9,"labelFontSize":17,"labelPadding":2}},
  "y":{"field":"v","type":"quantitative","scale":{"domain":[2.2,96.67],"nice":false,"zero":false},"axis":{"values":[20,40,60,80],"title":"O₃ AVd (ppb)","titleFontSize":17,"titleFontWeight":"bold","titlePadding":8,"grid":true,"tickSize":9,"labelFontSize":17,"labelPadding":3}},
  "color":{"field":"s","type":"nominal","scale":{"domain":["MCMA","GMD","MMA"],"range":["#1faa3c","#6a9be8","#ee7470"]},"legend":{"orient":"none","legendX":414,"legendY":-37,"direction":"horizontal","gridAlign":"none","title":null,"symbolType":"stroke","symbolStrokeWidth":5,"symbolOpacity":1,"symbolSize":1420,"labelFontSize":17,"labelFontWeight":"bold","labelColor":"#000","columnPadding":5,"labelOffset":8}}},
 "layer":[
  {"mark":{"type":"errorband","opacity":0.35},"encoding":{"yError":{"field":"e"}}},
  {"mark":{"type":"line","strokeWidth":2.8}},
  {"transform":[{"filter":"datum.h === 0 && datum.s === 'MCMA'"}],"mark":{"type":"rect","stroke":"#111","strokeWidth":1.5},"encoding":{"x":{"datum":0,"type":"quantitative"},"x2":{"datum":23},"y":{"datum":92,"type":"quantitative"},"y2":{"datum":96.67},"color":{"value":"#fddcbc"}}},
  {"transform":[{"filter":"datum.h === 0 && datum.s === 'MCMA'"}],"mark":{"type":"text","fontSize":17,"fontWeight":"bold","baseline":"middle"},"encoding":{"x":{"datum":11.5,"type":"quantitative"},"y":{"datum":94.3,"type":"quantitative"},"text":{"field":"d"},"color":{"value":"#000"}}}
 ]},
{"width":162,"height":425,"data":{"name":"o3"},"transform":[{"filter":"datum.d === 'Monday'"}],
 "encoding":{"x":{"field":"h","type":"quantitative","scale":{"domain":[0,23],"nice":false,"zero":false},"axis":{"values":[0,6,12,18],"title":null,"grid":true,"tickSize":9,"labelFontSize":17,"labelPadding":2}},
  "y":{"field":"v","type":"quantitative","scale":{"domain":[2.2,96.67],"nice":false,"zero":false},"axis":{"values":[20,40,60,80],"title":null,"grid":true,"labels":false,"ticks":false,"domain":false}},
  "color":{"field":"s","type":"nominal","legend":null}},
 "layer":[
  {"mark":{"type":"errorband","opacity":0.35},"encoding":{"yError":{"field":"e"}}},
  {"mark":{"type":"line","strokeWidth":2.8}},
  {"transform":[{"filter":"datum.h === 0 && datum.s === 'MCMA'"}],"mark":{"type":"rect","stroke":"#111","strokeWidth":1.5},"encoding":{"x":{"datum":0,"type":"quantitative"},"x2":{"datum":23},"y":{"datum":92,"type":"quantitative"},"y2":{"datum":96.67},"color":{"value":"#fddcbc"}}},
  {"transform":[{"filter":"datum.h === 0 && datum.s === 'MCMA'"}],"mark":{"type":"text","fontSize":17,"fontWeight":"bold","baseline":"middle"},"encoding":{"x":{"datum":11.5,"type":"quantitative"},"y":{"datum":94.3,"type":"quantitative"},"text":{"field":"d"},"color":{"value":"#000"}}}
 ]},
{"width":162,"height":425,"data":{"name":"o3"},"transform":[{"filter":"datum.d === 'Tuesday'"}],
 "encoding":{"x":{"field":"h","type":"quantitative","scale":{"domain":[0,23],"nice":false,"zero":false},"axis":{"values":[0,6,12,18],"title":null,"grid":true,"tickSize":9,"labelFontSize":17,"labelPadding":2}},
  "y":{"field":"v","type":"quantitative","scale":{"domain":[2.2,96.67],"nice":false,"zero":false},"axis":{"values":[20,40,60,80],"title":null,"grid":true,"labels":false,"ticks":false,"domain":false}},
  "color":{"field":"s","type":"nominal","legend":null}},
 "layer":[
  {"mark":{"type":"errorband","opacity":0.35},"encoding":{"yError":{"field":"e"}}},
  {"mark":{"type":"line","strokeWidth":2.8}},
  {"transform":[{"filter":"datum.h === 0 && datum.s === 'MCMA'"}],"mark":{"type":"rect","stroke":"#111","strokeWidth":1.5},"encoding":{"x":{"datum":0,"type":"quantitative"},"x2":{"datum":23},"y":{"datum":92,"type":"quantitative"},"y2":{"datum":96.67},"color":{"value":"#fddcbc"}}},
  {"transform":[{"filter":"datum.h === 0 && datum.s === 'MCMA'"}],"mark":{"type":"text","fontSize":17,"fontWeight":"bold","baseline":"middle"},"encoding":{"x":{"datum":11.5,"type":"quantitative"},"y":{"datum":94.3,"type":"quantitative"},"text":{"field":"d"},"color":{"value":"#000"}}}
 ]},
{"width":162,"height":425,"data":{"name":"o3"},"transform":[{"filter":"datum.d === 'Wednesday'"}],
 "encoding":{"x":{"field":"h","type":"quantitative","scale":{"domain":[0,23],"nice":false,"zero":false},"axis":{"values":[0,6,12,18],"title":"Time (CDT)","titleFontSize":21,"titleFontWeight":"bold","titlePadding":4,"grid":true,"tickSize":9,"labelFontSize":17,"labelPadding":2}},
  "y":{"field":"v","type":"quantitative","scale":{"domain":[2.2,96.67],"nice":false,"zero":false},"axis":{"values":[20,40,60,80],"title":null,"grid":true,"labels":false,"ticks":false,"domain":false}},
  "color":{"field":"s","type":"nominal","legend":null}},
 "layer":[
  {"mark":{"type":"errorband","opacity":0.35},"encoding":{"yError":{"field":"e"}}},
  {"mark":{"type":"line","strokeWidth":2.8}},
  {"transform":[{"filter":"datum.h === 0 && datum.s === 'MCMA'"}],"mark":{"type":"rect","stroke":"#111","strokeWidth":1.5},"encoding":{"x":{"datum":0,"type":"quantitative"},"x2":{"datum":23},"y":{"datum":92,"type":"quantitative"},"y2":{"datum":96.67},"color":{"value":"#fddcbc"}}},
  {"transform":[{"filter":"datum.h === 0 && datum.s === 'MCMA'"}],"mark":{"type":"text","fontSize":17,"fontWeight":"bold","baseline":"middle"},"encoding":{"x":{"datum":11.5,"type":"quantitative"},"y":{"datum":94.3,"type":"quantitative"},"text":{"field":"d"},"color":{"value":"#000"}}}
 ]},
{"width":162,"height":425,"data":{"name":"o3"},"transform":[{"filter":"datum.d === 'Thursday'"}],
 "encoding":{"x":{"field":"h","type":"quantitative","scale":{"domain":[0,23],"nice":false,"zero":false},"axis":{"values":[0,6,12,18],"title":null,"grid":true,"tickSize":9,"labelFontSize":17,"labelPadding":2}},
  "y":{"field":"v","type":"quantitative","scale":{"domain":[2.2,96.67],"nice":false,"zero":false},"axis":{"values":[20,40,60,80],"title":null,"grid":true,"labels":false,"ticks":false,"domain":false}},
  "color":{"field":"s","type":"nominal","legend":null}},
 "layer":[
  {"mark":{"type":"errorband","opacity":0.35},"encoding":{"yError":{"field":"e"}}},
  {"mark":{"type":"line","strokeWidth":2.8}},
  {"transform":[{"filter":"datum.h === 0 && datum.s === 'MCMA'"}],"mark":{"type":"rect","stroke":"#111","strokeWidth":1.5},"encoding":{"x":{"datum":0,"type":"quantitative"},"x2":{"datum":23},"y":{"datum":92,"type":"quantitative"},"y2":{"datum":96.67},"color":{"value":"#fddcbc"}}},
  {"transform":[{"filter":"datum.h === 0 && datum.s === 'MCMA'"}],"mark":{"type":"text","fontSize":17,"fontWeight":"bold","baseline":"middle"},"encoding":{"x":{"datum":11.5,"type":"quantitative"},"y":{"datum":94.3,"type":"quantitative"},"text":{"field":"d"},"color":{"value":"#000"}}}
 ]},
{"width":162,"height":425,"data":{"name":"o3"},"transform":[{"filter":"datum.d === 'Friday'"}],
 "encoding":{"x":{"field":"h","type":"quantitative","scale":{"domain":[0,23],"nice":false,"zero":false},"axis":{"values":[0,6,12,18],"title":null,"grid":true,"tickSize":9,"labelFontSize":17,"labelPadding":2}},
  "y":{"field":"v","type":"quantitative","scale":{"domain":[2.2,96.67],"nice":false,"zero":false},"axis":{"values":[20,40,60,80],"title":null,"grid":true,"labels":false,"ticks":false,"domain":false}},
  "color":{"field":"s","type":"nominal","legend":null}},
 "layer":[
  {"mark":{"type":"errorband","opacity":0.35},"encoding":{"yError":{"field":"e"}}},
  {"mark":{"type":"line","strokeWidth":2.8}},
  {"transform":[{"filter":"datum.h === 0 && datum.s === 'MCMA'"}],"mark":{"type":"rect","stroke":"#111","strokeWidth":1.5},"encoding":{"x":{"datum":0,"type":"quantitative"},"x2":{"datum":23},"y":{"datum":92,"type":"quantitative"},"y2":{"datum":96.67},"color":{"value":"#fddcbc"}}},
  {"transform":[{"filter":"datum.h === 0 && datum.s === 'MCMA'"}],"mark":{"type":"text","fontSize":17,"fontWeight":"bold","baseline":"middle"},"encoding":{"x":{"datum":11.5,"type":"quantitative"},"y":{"datum":94.3,"type":"quantitative"},"text":{"field":"d"},"color":{"value":"#000"}}}
 ]},
{"width":162,"height":425,"data":{"name":"o3"},"transform":[{"filter":"datum.d === 'Saturday'"}],
 "encoding":{"x":{"field":"h","type":"quantitative","scale":{"domain":[0,23],"nice":false,"zero":false},"axis":{"values":[0,6,12,18,23],"title":null,"grid":true,"tickSize":9,"labelFontSize":17,"labelPadding":2}},
  "y":{"field":"v","type":"quantitative","scale":{"domain":[2.2,96.67],"nice":false,"zero":false},"axis":{"values":[20,40,60,80],"title":null,"grid":true,"labels":false,"ticks":false,"domain":false}},
  "color":{"field":"s","type":"nominal","legend":null}},
 "layer":[
  {"mark":{"type":"errorband","opacity":0.35},"encoding":{"yError":{"field":"e"}}},
  {"mark":{"type":"line","strokeWidth":2.8}},
  {"transform":[{"filter":"datum.h === 0 && datum.s === 'MCMA'"}],"mark":{"type":"rect","stroke":"#111","strokeWidth":1.5},"encoding":{"x":{"datum":0,"type":"quantitative"},"x2":{"datum":23},"y":{"datum":92,"type":"quantitative"},"y2":{"datum":96.67},"color":{"value":"#fddcbc"}}},
  {"transform":[{"filter":"datum.h === 0 && datum.s === 'MCMA'"}],"mark":{"type":"text","fontSize":17,"fontWeight":"bold","baseline":"middle"},"encoding":{"x":{"datum":11.5,"type":"quantitative"},"y":{"datum":94.3,"type":"quantitative"},"text":{"field":"d"},"color":{"value":"#000"}}}
 ]}
]
}
